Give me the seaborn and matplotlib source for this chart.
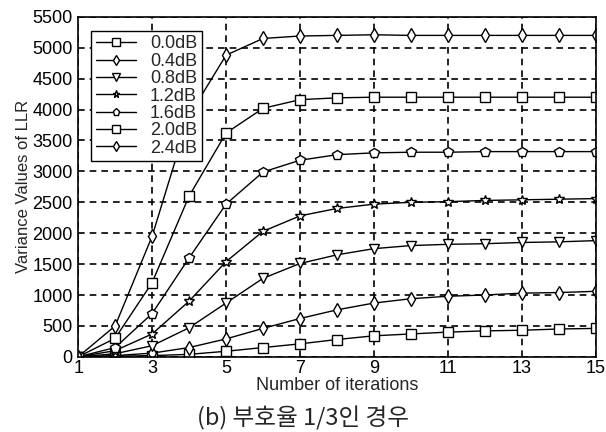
import numpy as np
import pandas as pd
import matplotlib
matplotlib.use("Agg")
import matplotlib.pyplot as plt
import seaborn as sns

# ==========================================
# DATA
# ==========================================

iterations = list(range(1, 16))

snr_labels = ["0.0dB", "0.4dB", "0.8dB", "1.2dB", "1.6dB", "2.0dB", "2.4dB"]

var_00 = [0, 10, 20, 40, 90, 150, 210, 280, 340, 370, 400, 420, 430, 450, 460]
var_04 = [0, 20, 60, 150, 290, 460, 620, 760, 870, 940, 980, 1000, 1030, 1040, 1060]
var_08 = [0, 50, 180, 470, 870, 1270, 1510, 1650, 1750, 1800, 1820, 1830, 1850, 1860, 1880]
var_12 = [0, 100, 370, 900, 1540, 2030, 2280, 2400, 2470, 2500, 2510, 2530, 2540, 2550, 2560]
var_16 = [0, 150, 700, 1600, 2470, 2990, 3180, 3270, 3300, 3310, 3310, 3320, 3320, 3320, 3320]
var_20 = [0, 300, 1200, 2600, 3620, 4020, 4160, 4190, 4200, 4200, 4200, 4200, 4200, 4200, 4200]
var_24 = [0, 500, 1950, 3900, 4880, 5150, 5190, 5200, 5210, 5200, 5200, 5200, 5200, 5200, 5200]

markers = ["s", "d", "v", "*", "p", "s", "d"]

# ==========================================
# BUILD TABLE
# ==========================================

series = [var_00, var_04, var_08, var_12, var_16, var_20, var_24]

df = pd.DataFrame({
    "Iteration": iterations * len(snr_labels),
    "Variance": np.concatenate(series),
    "SNR": np.repeat(snr_labels, len(iterations)),
})

# ==========================================
# PLOT
# ==========================================

sns.set_style("white")
plt.rcParams["font.family"] = ["Liberation Sans", "DejaVu Sans"]

fig = plt.figure(figsize=(6.06, 4.32), dpi=100)
ax = fig.add_axes([0.129, 0.174, 0.854, 0.787])

sns.lineplot(
    data=df,
    x="Iteration",
    y="Variance",
    hue="SNR",
    style="SNR",
    hue_order=snr_labels,
    style_order=snr_labels,
    palette=["black"] * len(snr_labels),
    markers=markers,
    dashes=False,
    markersize=7,
    markerfacecolor="white",
    markeredgecolor="black",
    markeredgewidth=1.0,
    linewidth=1.0,
    ax=ax,
)

ax.set_xlim(1, 15)
ax.set_ylim(0, 5500)
ax.set_xticks(range(1, 16, 2))
ax.set_yticks(range(0, 5501, 500))

ax.grid(True, color="black", linestyle=(0, (4, 3)), linewidth=1.2)
ax.set_axisbelow(True)

for spine in ax.spines.values():
    spine.set_color("black")
    spine.set_linewidth(1.2)

ax.tick_params(axis="both", labelsize=13, colors="black", length=0)
ax.tick_params(axis="x", pad=2)
ax.tick_params(axis="y", pad=4)

ax.set_xlabel("Number of iterations", fontsize=13, labelpad=0)
ax.set_ylabel("Variance Values of LLR", fontsize=12, labelpad=1)

leg = ax.legend(
    loc="upper left",
    bbox_to_anchor=(0.008, 0.985),
    fontsize=13,
    frameon=True,
    fancybox=False,
    edgecolor="black",
    handlelength=2.2,
    labelspacing=0.02,
    borderpad=0.25,
    handletextpad=0.8,
    markerscale=0.75,
)
leg.get_frame().set_linewidth(1.0)
leg.get_frame().set_alpha(1.0)

fig.text(
    0.5, 0.015,
    "(b) 부호율 1/3인 경우",
    ha="center",
    fontsize=17,
    family=["Noto Sans CJK KR", "DejaVu Sans"],
)

fig.savefig("out.png", dpi=100)
